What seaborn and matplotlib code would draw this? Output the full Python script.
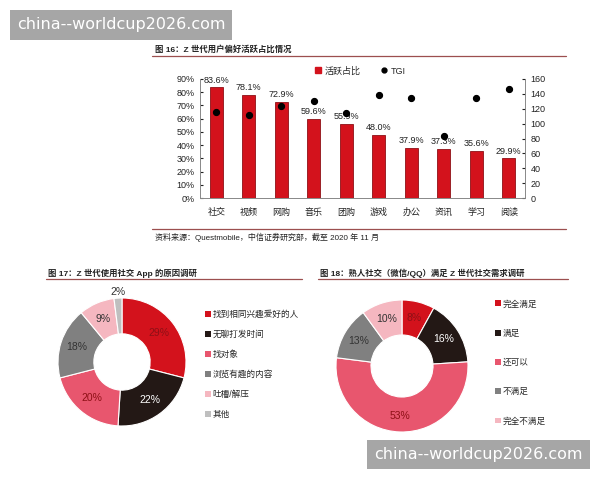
import numpy as np
import pandas as pd
import matplotlib
matplotlib.use("Agg")
import matplotlib.pyplot as plt
from matplotlib.patches import Patch, Rectangle
from matplotlib.lines import Line2D
from matplotlib.ticker import PercentFormatter
import seaborn as sns

# 图 16: Z 世代用户偏好活跃占比
apps = ["社交", "视频", "网购", "音乐", "团购", "游戏", "办公", "资讯", "学习", "阅读"]
active_pct = [83.6, 78.1, 72.9, 59.6, 55.9, 48.0, 37.9, 37.3, 35.6, 29.9]
tgi = [115, 111, 124, 131, 114, 138, 134, 84, 135, 147]

# 图 17: 使用社交 App 的原因
reasons = ["找到相同兴趣爱好的人", "无聊打发时间", "找对象", "浏览有趣的内容", "吐槽/解压", "其他"]
reason_pct = [29, 22, 20, 18, 9, 2]

# 图 18: 熟人社交满足度
levels = ["完全满足", "满足", "还可以", "不满足", "完全不满足"]
level_pct = [8, 16, 53, 13, 10]

RED = "#d3121c"
BLACK = "#231815"
PINK = "#e8566e"
GRAY = "#808080"
LPINK = "#f5b7c0"
LGRAY = "#bfbfbf"
RULE = "#9c4f4f"
DARKRED = "#8e1016"

sns.set_style("white")
plt.rcParams["font.family"] = ["Liberation Sans", "Noto Sans CJK SC", "DejaVu Sans"]
plt.rcParams["font.size"] = 6

W, H = 600, 480


def box(x, y, w, h):
    """像素坐标 -> figure 坐标"""
    return [x / W, 1 - (y + h) / H, w / W, h / H]


def fx(x):
    return x / W


def fy(y):
    return 1 - y / H


fig = plt.figure(figsize=(6, 4.8), dpi=100)
fig.patch.set_facecolor("white")


def rule(x0, x1, y):
    fig.add_artist(Line2D([fx(x0), fx(x1)], [fy(y), fy(y)], color=RULE, lw=0.9))


# --- 图 16 ---
fig.text(fx(155), fy(49), "图 16：Z 世代用户偏好活跃占比情况", fontsize=6,
         fontweight="bold", va="center", color="#222222")
rule(152, 566, 56)

df = pd.DataFrame({"app": apps, "active": np.array(active_pct) / 100, "tgi": tgi})

ax = fig.add_axes(box(200, 79, 325, 119))
sns.barplot(data=df, x="app", y="active", color=RED, width=0.4, saturation=1,
            edgecolor=DARKRED, linewidth=0.6, ax=ax)
ax.set_ylim(0, 0.9)
ax.set_yticks(np.arange(0, 0.91, 0.1))
ax.yaxis.set_major_formatter(PercentFormatter(1, decimals=0))
ax.bar_label(ax.containers[0], labels=[f"{v:.1f}%" for v in active_pct],
             padding=2, fontsize=6.5, color="#222222")
ax.set_xlabel("")
ax.set_ylabel("")

ax2 = ax.twinx()
sns.pointplot(data=df, x="app", y="tgi", color="black", linestyle="none",
              markers="o", markersize=3.2, ax=ax2)
ax2.set_ylim(0, 160)
ax2.set_yticks(range(0, 161, 20))
ax2.set_ylabel("")

for a in (ax, ax2):
    a.spines["top"].set_visible(False)
    for s in ("left", "right", "bottom"):
        a.spines[s].set_color("#888888")
        a.spines[s].set_linewidth(0.6)
ax.tick_params(axis="y", direction="in", length=2, labelsize=6.5, pad=4, colors="#222222")
ax2.tick_params(axis="y", direction="in", length=2, labelsize=6.5, pad=4, colors="#222222")
ax.tick_params(axis="x", length=0, labelsize=6.5, pad=7, colors="#222222")
ax2.tick_params(axis="x", length=0)

handles = [Line2D([], [], marker="s", color=RED, linestyle="none", markersize=4),
           Line2D([], [], marker="o", color="black", linestyle="none", markersize=3.5)]
ax2.legend(handles, ["活跃占比", "TGI"], loc="center", bbox_to_anchor=(fx(360), fy(71)),
           bbox_transform=fig.transFigure, ncol=2, frameon=False, fontsize=6.5,
           handlelength=0.8, handletextpad=0.3, columnspacing=2.2)

rule(152, 566, 229)
fig.text(fx(155), fy(237), "资料来源：Questmobile，中信证券研究部，截至 2020 年 11 月",
         fontsize=5.8, va="center", color="#222222")


def donut(ax, values, colors, text_colors, hole, outside=()):
    wedges, _ = ax.pie(values, colors=colors, startangle=90, counterclock=False,
                       radius=1, wedgeprops=dict(width=1 - hole, edgecolor="white", linewidth=0.8))
    ax.set_xlim(-1, 1)
    ax.set_ylim(-1, 1)
    ax.set_aspect("equal")
    rmid = (1 + hole) / 2 + 0.02
    for i, (w, v, tc) in enumerate(zip(wedges, values, text_colors)):
        ang = np.deg2rad((w.theta1 + w.theta2) / 2)
        r = 1.1 if i in outside else rmid
        ax.text(r * np.cos(ang), r * np.sin(ang), f"{v}%", ha="center", va="center",
                fontsize=7.5, color=tc)
    return wedges


def legend_at(ax, labels, colors, x, y, spacing):
    hs = [Patch(facecolor=c, edgecolor="none") for c in colors]
    ax.legend(hs, labels, loc="center left", bbox_to_anchor=(fx(x), fy(y)),
              bbox_transform=fig.transFigure, frameon=False, fontsize=6.2,
              handlelength=0.65, handleheight=0.65, handletextpad=0.25,
              labelspacing=spacing, borderpad=0, borderaxespad=0)


# --- 图 17 ---
fig.text(fx(48), fy(273), "图 17：Z 世代使用社交 App 的原因调研", fontsize=6,
         fontweight="bold", va="center", color="#222222")
rule(46, 302, 279)
axp1 = fig.add_axes(box(122 - 64, 362 - 64, 128, 128))
donut(axp1, reason_pct, [RED, BLACK, PINK, GRAY, LPINK, LGRAY],
      [DARKRED, "white", DARKRED, "#333333", "#333333", "#333333"], hole=0.44, outside=(5,))
legend_at(axp1, reasons, [RED, BLACK, PINK, GRAY, LPINK, LGRAY], 205, 364.5, 1.28)

# --- 图 18 ---
fig.text(fx(320), fy(273), "图 18：熟人社交（微信/QQ）满足 Z 世代社交需求调研", fontsize=6,
         fontweight="bold", va="center", color="#222222")
rule(318, 568, 279)
axp2 = fig.add_axes(box(402 - 66, 366 - 66, 132, 132))
donut(axp2, level_pct, [RED, BLACK, PINK, GRAY, LPINK],
      [DARKRED, "white", DARKRED, "#333333", "#333333"], hole=0.47)
legend_at(axp2, levels, [RED, BLACK, PINK, GRAY, LPINK], 495, 362.5, 2.36)

# --- 水印 ---
for (x0, y0, w, h) in [(10, 10, 222, 30), (367, 440, 223, 29)]:
    fig.add_artist(Rectangle((fx(x0), fy(y0 + h)), w / W, h / H, transform=fig.transFigure,
                             facecolor="#a6a6a6", edgecolor="none", zorder=10))
    fig.text(fx(x0 + w / 2), fy(y0 + h / 2), "china--worldcup2026.com", fontsize=11.5,
             family="DejaVu Sans", color="white", ha="center", va="center", zorder=11)

fig.savefig("out.png", dpi=100, facecolor="white")
plt.close(fig)
